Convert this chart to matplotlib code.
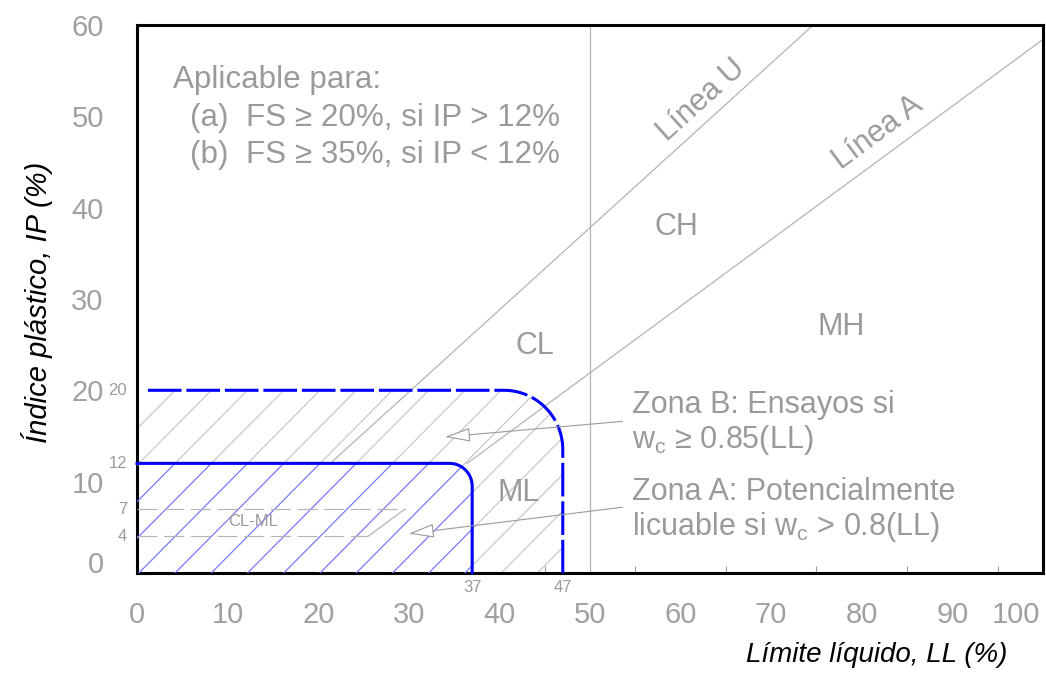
import numpy as np
import matplotlib.pyplot as plt
from matplotlib.path import Path
from matplotlib.patches import PathPatch

plt.rcParams['font.family'] = ['Liberation Sans', 'DejaVu Sans']
plt.rcParams['mathtext.fontset'] = 'custom'
plt.rcParams['mathtext.rm'] = 'Liberation Sans'
plt.rcParams['mathtext.it'] = 'Liberation Sans:italic'

GRIS = '#9a9a9a'
GRIS_LINEA = '#b4b4b4'
AZUL = '#0000ff'

# zona A (solida) y zona B (discontinua)
ll_zona_a, ip_zona_a = 37, 12
ll_zona_b, ip_zona_b = 47, 20
radio_a, radio_b = 2.5, 6.5

# linea A: IP = 0.73 (LL - 20) ; linea U: IP = 0.9 (LL - 8)
pend_a, ll0_a = 0.73, 20
pend_u, ll0_u = 0.9, 8
ip_clml = [4, 7]

x_ticks = [0, 10, 20, 30, 40, 50, 60, 70, 80, 90, 97]
x_labels = ['0', '10', '20', '30', '40', '50', '60', '70', '80', '90', '100']
y_ticks = [1.2, 10, 20, 30, 40, 50, 60]
y_labels = ['0', '10', '20', '30', '40', '50', '60']


def contorno(ll, ip, r, x0=0.0):
    t = np.linspace(np.pi / 2, 0, 40)
    xs = np.r_[x0, ll - r + r * np.cos(t), ll]
    ys = np.r_[ip, ip - r + r * np.sin(t), 0]
    return xs, ys


def parche(ll, ip, r):
    xs, ys = contorno(ll, ip, r)
    verts = [(0, 0)] + list(zip(xs, ys)) + [(0, 0)]
    codes = [Path.MOVETO] + [Path.LINETO] * (len(verts) - 2) + [Path.CLOSEPOLY]
    return Path(verts, codes)


fig = plt.figure(figsize=(10.46, 6.73), dpi=100)
ax = fig.add_axes([0.131, 0.1486, 0.866, 0.8144])
ax.set_xlim(0, 100)
ax.set_ylim(0, 60)

# lineas A y U, y LL = 50
ll_u = np.array([ll0_u + ip_zona_a / pend_u, ll0_u + 60 / pend_u])
ax.plot(ll_u, pend_u * (ll_u - ll0_u), color=GRIS_LINEA, lw=0.9, zorder=1)
ll_a = np.array([ll0_a + ip_zona_a / pend_a, 100])
ax.plot(ll_a, pend_a * (ll_a - ll0_a), color=GRIS_LINEA, lw=0.9, zorder=1)
ax.axvline(50, color=GRIS_LINEA, lw=0.9, zorder=1)

# rayado de las zonas
path_b = parche(ll_zona_b, ip_zona_b, radio_b)
path_a = parche(ll_zona_a, ip_zona_a, radio_a)
clip_b = PathPatch(path_b, transform=ax.transData, fc='none', ec='none')
clip_a = PathPatch(path_a, transform=ax.transData, fc='none', ec='none')
ax.add_patch(clip_b)
ax.add_patch(clip_a)
ax.add_patch(PathPatch(path_a, fc='white', ec='none', zorder=2))
for c in np.arange(-48, 24, 4) - 0.2:
    g, = ax.plot([0, 60], [c, 60 + c], color='#c4c4c4', lw=0.8, zorder=1)
    g.set_clip_path(clip_b)
    b, = ax.plot([0, 60], [c, 60 + c], color='#7878ff', lw=0.9, zorder=3)
    b.set_clip_path(clip_a)

# zona CL-ML
for ip in ip_clml:
    ax.plot([0, ll0_a + ip / pend_a], [ip, ip], color=GRIS_LINEA, lw=0.8,
            ls=(0, (18, 6)), zorder=3)
ll_seg = np.array([ll0_a + ip_clml[0] / pend_a, ll0_a + ip_clml[1] / pend_a])
ax.plot(ll_seg, pend_a * (ll_seg - ll0_a), color=GRIS_LINEA, lw=0.9, zorder=3)

# limites de zona
xs, ys = contorno(ll_zona_a, ip_zona_a, radio_a)
ax.plot(xs, ys, color=AZUL, lw=2.2, zorder=4, clip_on=False)
xs, ys = contorno(ll_zona_b, ip_zona_b, radio_b, x0=1.2)
ax.plot(xs, ys, color=AZUL, lw=2.2, ls=(0, (11, 1.6)), zorder=4)

# textos
txt = dict(color=GRIS, fontsize=22)
nota = dict(color=GRIS, fontsize=22.6)
ax.text(4.0, 54.0, 'Aplicable para:', ha='left', va='center', **nota)
ax.text(5.8, 49.8, '(a)  FS ≥ 20%, si IP > 12%', ha='left', va='center', **nota)
ax.text(5.8, 45.8, '(b)  FS ≥ 35%, si IP < 12%', ha='left', va='center', **nota)
ax.text(62.3, 51.7, 'Línea U', rotation=42, ha='center', va='center', **txt)
ax.text(81.8, 48.2, 'Línea A', rotation=36.5, ha='center', va='center', **txt)
ax.text(59.6, 37.9, 'CH', ha='center', va='center', **txt)
ax.text(43.9, 24.8, 'CL', ha='center', va='center', **txt)
ax.text(77.7, 26.9, 'MH', ha='center', va='center', **txt)
ax.text(42.1, 8.8, 'ML', ha='center', va='center', **txt)
ax.text(12.8, 5.6, 'CL-ML', ha='center', va='center', color=GRIS, fontsize=12, zorder=5)
ax.text(54.6, 18.4, 'Zona B: Ensayos si', ha='left', va='center', **txt)
ax.text(54.6, 14.6, r'w$_\mathrm{c}$ ≥ 0.85(LL)', ha='left', va='center', **txt)
ax.text(54.6, 8.9, 'Zona A: Potencialmente', ha='left', va='center', **txt)
ax.text(54.6, 5.0, r'licuable si w$_\mathrm{c}$ > 0.8(LL)', ha='left', va='center', **txt)

flecha = dict(arrowstyle='-|>,head_length=0.8,head_width=0.22', fc='white',
              ec=GRIS, lw=0.8, mutation_scale=20, shrinkA=0, shrinkB=0)
ax.annotate('', xy=(34.0, 14.9), xytext=(53.6, 16.6), arrowprops=flecha, zorder=5)
ax.annotate('', xy=(30.0, 4.3), xytext=(53.6, 7.2), arrowprops=flecha, zorder=5)

# valores de referencia sobre los ejes
for v in [ll_zona_a, ll_zona_b]:
    ax.text(v, -1.6, str(v), ha='center', va='center', color=GRIS, fontsize=12,
            clip_on=False)
for v in [ip_zona_b, ip_zona_a] + ip_clml:
    ax.text(-1.1, v, str(v), ha='right', va='center', color=GRIS, fontsize=12,
            clip_on=False)

# ejes
for s in ax.spines.values():
    s.set_linewidth(2.2)
    s.set_color('black')
ax.set_xticks(x_ticks)
ax.set_xticklabels(x_labels)
ax.set_yticks(y_ticks)
ax.set_yticklabels(y_labels)
ax.set_xticks(np.arange(5, 100, 5), minor=True)
ax.set_yticks(np.arange(10, 60, 10), minor=True)
ax.tick_params(which='major', length=0, labelsize=21, labelcolor='#a0a0a0')
ax.tick_params(axis='x', which='major', pad=20)
ax.tick_params(axis='y', which='major', pad=24)
ax.tick_params(axis='x', which='minor', direction='in', length=5, width=0.8, color=GRIS)
ax.tick_params(axis='y', which='minor', direction='in', length=7, width=0.8, color=GRIS)

fig.text(37 / 1046, 1 - 302 / 673, 'Índice plástico, IP (%)', rotation=90,
         ha='center', va='center', fontsize=21, style='italic')
fig.text(877 / 1046, 1 - 655 / 673, 'Límite líquido, LL (%)',
         ha='center', va='center', fontsize=20, style='italic')

fig.savefig('out.png', dpi=100)
